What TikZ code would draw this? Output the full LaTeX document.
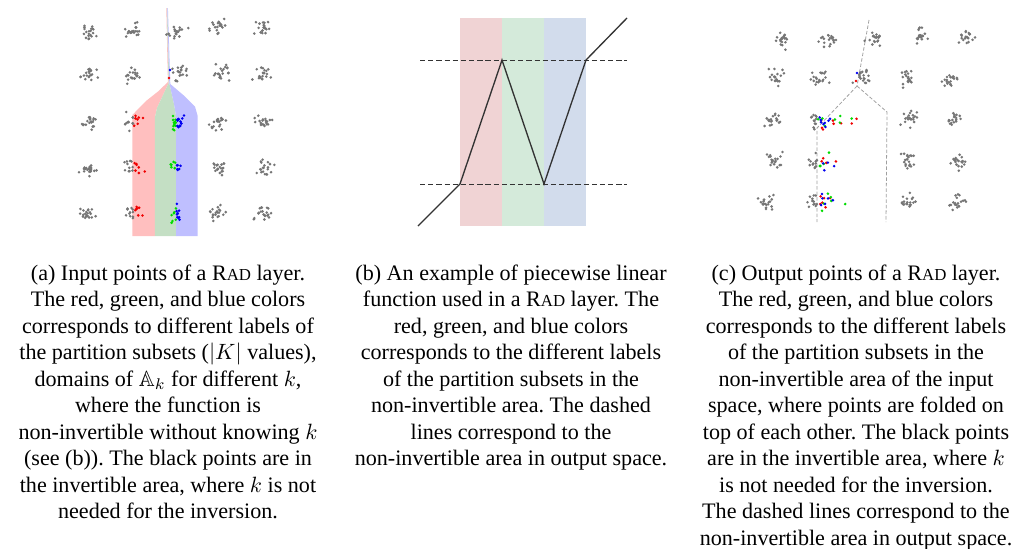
\documentclass[tikz,border=0pt]{standalone}
\usepackage{amsmath,amssymb}
\usepackage{fontspec}
\setmainfont{Liberation Serif}
\usetikzlibrary{calc,positioning}
\frenchspacing

% colours
\definecolor{bandR}{RGB}{255,191,191}
\definecolor{bandG}{RGB}{196,223,196}
\definecolor{bandB}{RGB}{191,191,255}
\definecolor{softR}{RGB}{240,211,212}
\definecolor{softG}{RGB}{212,234,218}
\definecolor{softB}{RGB}{210,220,236}
\definecolor{dotgray}{RGB}{118,118,118}
\definecolor{dotred}{RGB}{240,0,0}
\definecolor{dotgreen}{RGB}{0,220,0}
\definecolor{dotblue}{RGB}{0,0,240}
\definecolor{fnline}{RGB}{51,51,51}

% small caps by hand (no true small caps in the serif)
\newcommand\rad{R{\fontsize{7.6}{9}\selectfont AD}}

% cloud of dots: x, y, count, colour, side (-1/0/1), spread x, spread y
\newcommand\dotcloud[7]{%
  \foreach \i in {1,...,#3}{%
    \pgfmathsetmacro\ddx{(#5==0 ? (rand+rand+rand) : #5*abs(rand+rand+rand))*#6}%
    \pgfmathsetmacro\ddy{(rand+rand+rand)*#7}%
    \fill[#4] ({#1+\ddx},{#2+\ddy}) circle[radius=0.65pt];
  }}

\begin{document}
\begin{tikzpicture}[x=0.0159cm, y=-0.0159cm,
    captext/.style={align=center, anchor=north, inner sep=0pt, font=\fontsize{10}{12}\selectfont},
    fold/.style={dotgray!70, line width=0.35pt, dash pattern=on 1.6pt off 0.9pt},
    level/.style={fnline, line width=0.45pt, dash pattern=on 2.4pt off 1.3pt}]
    \useasboundingbox (0,0) rectangle (1025,548);
    \pgfmathsetseed{11}

    % ---------- (a) input points ----------
    % Parameters
    \def\xR{132.3} \def\xG{154.8} \def\xB{176} \def\xE{197.7}
    \def\yb{236}   % bottom of the bands

    % Bands
    \fill[bandR] (\xR,\yb) -- (\xR,115) -- (146,101) -- (158,91.5) -- (167.9,82)
        -- (166.3,8) -- (166.8,8) -- (168.6,83) -- (157,108) -- (\xG,118) -- (\xG,\yb) -- cycle;
    \fill[bandG] (\xG,\yb) -- (\xG,118) -- (157,108) -- (168.6,83) -- (166.8,8)
        -- (167.3,8) -- (169.3,83) -- (174,104) -- (\xB,116) -- (\xB,\yb) -- cycle;
    \fill[bandB] (\xB,\yb) -- (\xB,116) -- (174,104) -- (169.3,83) -- (167.3,8)
        -- (167.9,8) -- (170.3,84) -- (185,96.5) -- (195,106.5) -- (\xE,116) -- (\xE,\yb) -- cycle;

    % Gray clusters
    \foreach \cx/\cy in {88/32,132/32,177/32,218/27,263/27,
                         88/75,132/75,180/73,222/73,262/75,
                         90/122,218/122,263/120,
                         90/168,220/168,265/168,
                         87/213,218/213,263/212}
        {\dotcloud{\cx}{\cy}{20}{dotgray}{0}{4.2}{3.8}}
    % Half clusters in the red band
    \foreach \cy in {122,168,213}{
        \dotcloud{133}{\cy}{11}{dotgray}{-1}{4.5}{4}
        \dotcloud{134}{\cy}{7}{dotred}{1}{4.5}{4}}
    % Green and blue clusters
    \dotcloud{176}{123}{12}{dotgreen}{-1}{3}{4}
    \dotcloud{176.5}{123}{12}{dotblue}{1}{4.5}{4}
    \dotcloud{176}{168}{6}{dotgreen}{-1}{2.5}{4}
    \dotcloud{176.5}{168}{6}{dotblue}{1}{2.5}{3}
    \dotcloud{176}{212}{7}{dotgreen}{-1}{3}{5}
    \dotcloud{176.5}{212}{9}{dotblue}{1}{4}{4}
    \fill[dotblue] (170,70) circle[radius=0.65pt];
    \fill[dotred] (169,78) circle[radius=0.65pt];

    % ---------- (b) piecewise linear function ----------
    \fill[softR] (460,18) rectangle (502,226);
    \fill[softG] (502,18) rectangle (544,226);
    \fill[softB] (544,18) rectangle (586,226);
    \draw[level] (420,60) -- (627,60);
    \draw[level] (420,184) -- (627,184);
    \coordinate (f0) at (418,226);
    \coordinate (f1) at (460,184);
    \coordinate (f2) at (502,60);
    \coordinate (f3) at (544,184);
    \coordinate (f4) at (586,60);
    \coordinate (f5) at (627,18);
    \draw[fnline, line width=0.6pt] (f0) -- (f1) -- (f2) -- (f3) -- (f4) -- (f5);

    % ---------- (c) output points ----------
    \coordinate (top) at (869,20);
    \coordinate (fork) at (857,86);
    \draw[fold] (top) -- (fork);
    \draw[fold] (fork) -- (817,128) -- (817,222);
    \draw[fold] (fork) -- (887,112) -- (886,222);

    \foreach \cx/\cy in {783/40,828/40,875/38,918/35,965/37,
                         775/77,820/78,863/78,908/78,950/80,
                         773/120,910/118,953/118,
                         773/160,908/160,958/162,
                         768/202,908/202,958/202}
        {\dotcloud{\cx}{\cy}{20}{dotgray}{0}{4.2}{3.8}}
    % Folded points
    \foreach \cy in {120,160,200}
        {\dotcloud{817}{\cy}{12}{dotgray}{-1}{4}{4}}
    \foreach \col in {dotred,dotgreen,dotblue}{
        \dotcloud{818}{121}{8}{\col}{1}{15}{4}
        \dotcloud{819}{162}{4}{\col}{1}{11}{4}
        \dotcloud{819}{202}{6}{\col}{1}{13}{4}}
    \fill[dotblue] (857,73) circle[radius=0.65pt];
    \fill[dotred] (856,81) circle[radius=0.65pt];

    % ---------- captions ----------
    \node[captext] (capA) at (168,264) {(a) Input points of a \rad{} layer.\\
        The red, green, and blue colors\\
        corresponds to different labels of\\
        the partition subsets ($|K|$ values),\\
        domains of $\mathbb{A}_k$ for different $k$,\\
        where the function is\\
        non-invertible without knowing $k$\\
        (see (b)). The black points are in\\
        the invertible area, where $k$ is not\\
        needed for the inversion.};
    \node[captext] (capB) at (511,264) {(b) An example of piecewise linear\\
        function used in a \rad{} layer. The\\
        red, green, and blue colors\\
        corresponds to the different labels\\
        of the partition subsets in the\\
        non-invertible area. The dashed\\
        lines correspond to the\\
        non-invertible area in output space.};
    \node[captext] (capC) at (856,264) {(c) Output points of a \rad{} layer.\\
        The red, green, and blue colors\\
        corresponds to the different labels\\
        of the partition subsets in the\\
        non-invertible area of the input\\
        space, where points are folded on\\
        top of each other. The black points\\
        are in the invertible area, where $k$\\
        is not needed for the inversion.\\
        The dashed lines correspond to the\\
        non-invertible area in output space.};
\end{tikzpicture}
\end{document}
